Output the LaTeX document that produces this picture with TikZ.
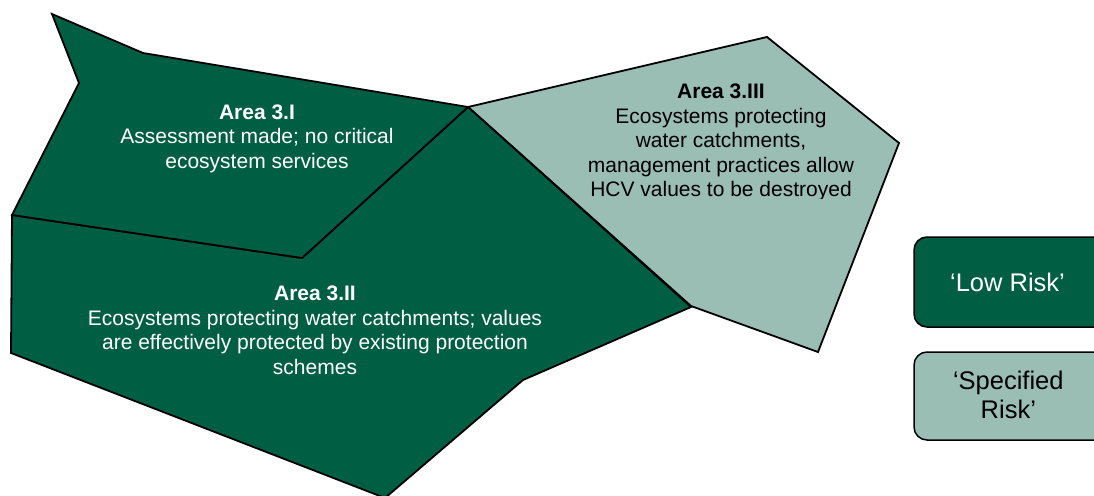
\documentclass[tikz,border=0pt]{standalone}
\usepackage{fontspec}
\setmainfont{Liberation Sans}
\definecolor{lowrisk}{RGB}{0,94,67}
\definecolor{specrisk}{RGB}{155,190,180}
\tikzset{
  area/.style={draw=black, line width=1.8pt, line join=miter},
  areatext/.style={align=center, inner sep=0pt, anchor=base, font=\fontsize{21}{24.5}\selectfont},
  legendbox/.style={draw=black, line width=1.5pt, rounded corners=13pt},
  legendtext/.style={align=center, inner sep=0pt, anchor=base, font=\fontsize{25.5}{29.7}\selectfont}
}
\begin{document}
\begin{tikzpicture}[x=1pt,y=-1pt]
\useasboundingbox (0,0) rectangle (1094,495);
\clip (0,0) rectangle (1094,495);
% Area 3.III
\filldraw[area, fill=specrisk] (468,107) -- (767,37) -- (899,143) -- (818,352) -- (691,306) -- cycle;
% Area 3.II
\filldraw[area, fill=lowrisk] (12,215) -- (302,258) -- (468,107) -- (691,307) -- (523,380) -- (385,498) -- (11,353) -- cycle;
% Area 3.I
\filldraw[area, fill=lowrisk] (52,14) -- (143,53) -- (468,107) -- (302,258) -- (12,215) -- (79,83) -- cycle;
% texts (anchor = baseline of last line)
\node[areatext, text=white] (t1) at (257,168) {\textbf{Area 3.I}\\Assessment made; no critical\\ecosystem services};
\node[areatext, text=white] (t2) at (315,374.2) {\textbf{Area 3.II}\\Ecosystems protecting water catchments; values\\are effectively protected by existing protection\\schemes};
\begin{scope}
\clip (550,60) rectangle (880,198.5);
\node[areatext, text=black] (t3) at (721,196.7) {\textbf{Area 3.III}\\Ecosystems protecting\\water catchments,\\management practices allow\\HCV values to be destroyed};
\end{scope}
% legend
\draw[legendbox, fill=lowrisk] (914,237) rectangle (1120,327);
\draw[legendbox, fill=specrisk] (914,352) rectangle (1120,440);
\node[legendtext, text=white] (low) at (1007.5,291.7) {‘Low Risk’};
\node[legendtext, text=black] (spec) at (1008.3,418.7) {‘Specified\\Risk’};
\end{tikzpicture}
\end{document}
